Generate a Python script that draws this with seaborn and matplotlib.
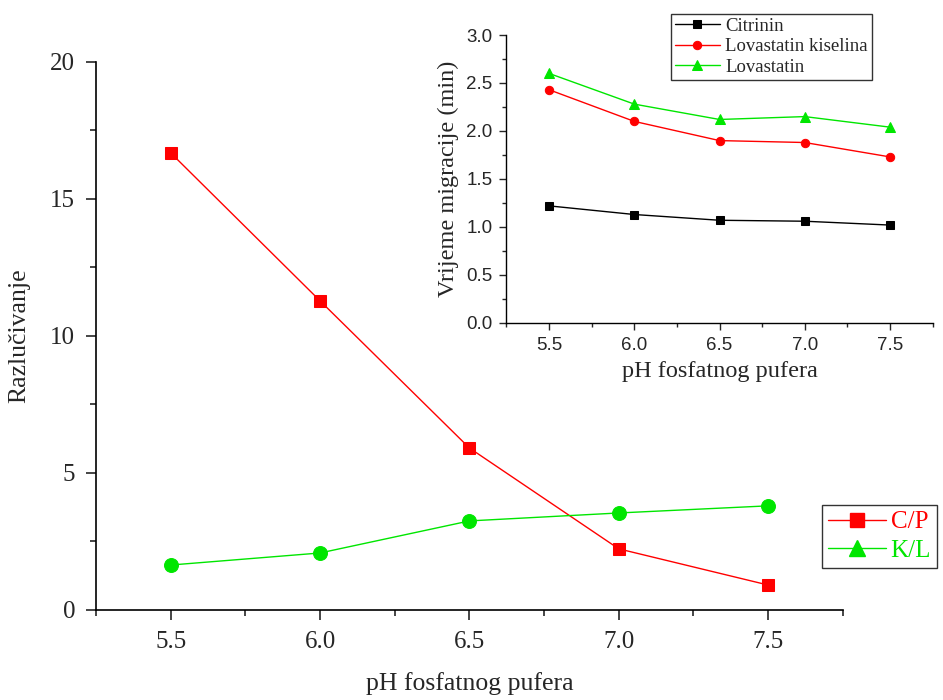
import numpy as np
import pandas as pd
import matplotlib.pyplot as plt
import seaborn as sns
from matplotlib.lines import Line2D
from matplotlib.ticker import MultipleLocator

sns.set_style("ticks")
plt.rcParams["font.family"] = ["Liberation Serif", "DejaVu Serif"]
plt.rcParams["xtick.direction"] = "out"
plt.rcParams["ytick.direction"] = "out"

ph = [5.5, 6.0, 6.5, 7.0, 7.5]

# main chart: resolution
cp = [16.68, 11.28, 5.91, 2.23, 0.91]
kl = [1.64, 2.08, 3.25, 3.54, 3.80]

# inset: migration time (min)
citrinin = [1.22, 1.13, 1.07, 1.06, 1.02]
lov_kis = [2.43, 2.10, 1.90, 1.88, 1.73]
lovastatin = [2.60, 2.28, 2.12, 2.15, 2.04]

red = "#ff0000"
green = "#00e600"
sans = ["Liberation Sans", "DejaVu Sans"]

fig = plt.figure(figsize=(9.43, 7), dpi=100)
ax = fig.add_axes([0.1018, 0.1286, 0.792, 0.783])

main = pd.DataFrame({"ph": ph, "cp": cp, "kl": kl})
sns.lineplot(data=main, x="ph", y="cp", ax=ax, color=red, lw=1, marker="s",
             markersize=9, markeredgecolor=red)
sns.lineplot(data=main, x="ph", y="kl", ax=ax, color=green, lw=1, marker="o",
             markersize=10, markeredgecolor=green)

ax.set_xlim(5.25, 7.75)
ax.set_ylim(0, 20)
ax.xaxis.set_major_locator(MultipleLocator(0.5))
ax.xaxis.set_minor_locator(MultipleLocator(0.25))
ax.yaxis.set_major_locator(MultipleLocator(5))
ax.yaxis.set_minor_locator(MultipleLocator(2.5))
ax.tick_params(which="major", length=7, width=1.2, labelsize=18, pad=8)
ax.tick_params(which="minor", length=4, width=1.2)
ax.set_xticks(ph)
ax.set_xticklabels([f"{v:.1f}" for v in ph])
ax.set_xlabel("pH fosfatnog pufera", fontsize=18.5, labelpad=14)
ax.set_ylabel("Razlučivanje", fontsize=18.5, labelpad=14)
sns.despine(ax=ax)
for s in ["left", "bottom"]:
    ax.spines[s].set_linewidth(1.2)
    ax.spines[s].set_color("black")

handles = [
    Line2D([], [], color=red, lw=1, marker="s", markersize=10),
    Line2D([], [], color=green, lw=1, marker="^", markersize=11),
]
leg = ax.legend(handles, ["C/P", "K/L"], loc="upper left",
                bbox_to_anchor=(0.972, 0.192), fontsize=18, frameon=True,
                fancybox=False, edgecolor="black", handlelength=2.3,
                borderpad=0.25, labelspacing=0.25, handletextpad=0.2,
                borderaxespad=0)
leg.get_frame().set_linewidth(1.0)
leg.get_texts()[0].set_color(red)
leg.get_texts()[1].set_color(green)

# inset
ins = fig.add_axes([0.537, 0.5386, 0.452, 0.4114])
inset = pd.DataFrame({"ph": ph, "cit": citrinin, "lk": lov_kis, "lov": lovastatin})
sns.lineplot(data=inset, x="ph", y="cit", ax=ins, color="black", lw=1, marker="s",
             markersize=5.5, markeredgecolor="black", label="Citrinin")
sns.lineplot(data=inset, x="ph", y="lk", ax=ins, color=red, lw=1, marker="o",
             markersize=6, markeredgecolor=red, label="Lovastatin kiselina")
sns.lineplot(data=inset, x="ph", y="lov", ax=ins, color=green, lw=1, marker="^",
             markersize=6.5, markeredgecolor=green, label="Lovastatin")

ins.set_xlim(5.25, 7.75)
ins.set_ylim(0, 3.0)
ins.xaxis.set_minor_locator(MultipleLocator(0.25))
ins.yaxis.set_minor_locator(MultipleLocator(0.25))
ins.tick_params(which="major", length=5, width=1, labelsize=13.5, pad=5)
ins.tick_params(which="minor", length=3, width=1)
ins.set_xticks(ph)
ins.set_xticklabels([f"{v:.1f}" for v in ph], family=sans)
yt = np.arange(0, 3.01, 0.5)
ins.set_yticks(yt)
ins.set_yticklabels([f"{v:.1f}" for v in yt], family=sans)
ins.set_xlabel("pH fosfatnog pufera", fontsize=17.5, labelpad=5)
ins.set_ylabel("Vrijeme migracije (min)", fontsize=17.5, labelpad=5)
sns.despine(ax=ins)
for s in ["left", "bottom"]:
    ins.spines[s].set_linewidth(1.0)
    ins.spines[s].set_color("black")
ileg = ins.legend(loc="upper left", bbox_to_anchor=(0.386, 1.073), fontsize=13.5,
                  frameon=True, fancybox=False, edgecolor="black",
                  handlelength=2.4, borderpad=0.2, labelspacing=0.18,
                  handletextpad=0.3, borderaxespad=0)
ileg.get_frame().set_linewidth(1.0)

fig.savefig("out.png", dpi=100)
